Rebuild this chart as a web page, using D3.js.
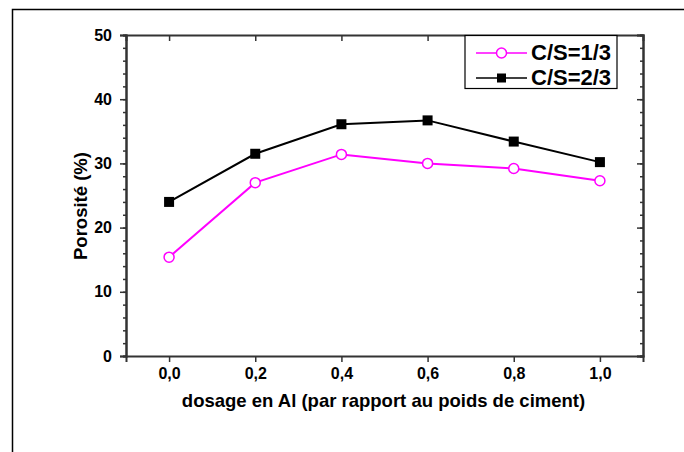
<!DOCTYPE html>
<html>
<head>
<meta charset="utf-8">
<script src="https://cdn.jsdelivr.net/npm/d3@7"></script>
<style>
  html, body { margin: 0; padding: 0; background: #fff; }
  svg { display: block; font-family: Arial, "Liberation Sans", Helvetica, sans-serif; }
</style>
</head>
<body>
<svg id="chart" width="684" height="452"></svg>
<script>
// Aluminium dosage (fraction of cement weight)
const dosage = [0.0, 0.2, 0.4, 0.6, 0.8, 1.0];
// Porosity (%) for each C/S ratio
const porositeCS13 = [15.4, 27.0, 31.4, 30.0, 29.2, 27.3];
const porositeCS23 = [24.0, 31.5, 36.1, 36.7, 33.4, 30.2];
const seriesNames = ["C/S=1/3", "C/S=2/3"];
const xTicks = [0.0, 0.2, 0.4, 0.6, 0.8, 1.0];
const yTicks = [0, 10, 20, 30, 40, 50];
const yMinorTicks = d3.range(0, 50.001, 2);

const svg = d3.select("#chart");
const margin = { left: 126, right: 41, top: 35, bottom: 96 };
const W = 684, H = 452;
const x = d3.scaleLinear().domain([-0.1, 1.1]).range([margin.left, W - margin.right]);
const y = d3.scaleLinear().domain([0, 50]).range([H - margin.bottom, margin.top]);
const axisColor = "#333";
const fmt = d => d3.format(".1f")(d).replace(".", ",");

// Page frame (top and left edges)
svg.append("path")
  .attr("d", `M12.5,452 L12.5,9.5 L684,9.5`)
  .attr("fill", "none").attr("stroke", "#000").attr("stroke-width", 1.5);

// Axes
function styleAxis(g) {
  g.selectAll("path.domain").attr("stroke", axisColor).attr("stroke-width", 2);
  g.selectAll(".tick line").attr("stroke", axisColor).attr("stroke-width", 1.5);
}

// Minor y ticks (left, outward; right, inward)
svg.append("g").attr("transform", `translate(${x.range()[0]},0)`)
  .call(d3.axisLeft(y).tickValues(yMinorTicks).tickSize(3).tickFormat(""))
  .call(styleAxis);
svg.append("g").attr("transform", `translate(${x.range()[1]},0)`)
  .call(d3.axisRight(y).tickValues(yMinorTicks).tickSize(-3).tickFormat(""))
  .call(styleAxis);

// Major y ticks
const yLeft = svg.append("g").attr("transform", `translate(${x.range()[0]},0)`)
  .call(d3.axisLeft(y).tickValues(yTicks).tickSize(6).tickPadding(8).tickFormat(d3.format("d")))
  .call(styleAxis);
yLeft.selectAll("text").attr("font-size", 16).attr("font-weight", "bold").attr("fill", "#000")
  .attr("font-family", "Arial, 'Liberation Sans', sans-serif");
svg.append("g").attr("transform", `translate(${x.range()[1]},0)`)
  .call(d3.axisRight(y).tickValues(yTicks).tickSize(-6).tickFormat(""))
  .call(styleAxis);

// x axes
const xBottom = svg.append("g").attr("transform", `translate(0,${y.range()[0]})`)
  .call(d3.axisBottom(x).tickValues(xTicks).tickSize(6).tickPadding(6).tickFormat(fmt))
  .call(styleAxis);
xBottom.selectAll("text").attr("font-size", 16).attr("font-weight", "bold").attr("fill", "#000")
  .attr("font-family", "Arial, 'Liberation Sans', sans-serif");
svg.append("g").attr("transform", `translate(0,${y.range()[1]})`)
  .call(d3.axisTop(x).tickValues(xTicks).tickSize(-6).tickFormat(""))
  .call(styleAxis);

// Axis titles
svg.append("text")
  .attr("x", (x.range()[0] + x.range()[1]) / 2 - 1).attr("y", 407)
  .attr("text-anchor", "middle").attr("font-size", 18.5).attr("font-weight", "bold")
  .text("dosage en Al (par rapport au poids de ciment)");
svg.append("text")
  .attr("transform", "translate(87,206) rotate(-90)")
  .attr("text-anchor", "middle").attr("font-size", 18.5).attr("font-weight", "bold")
  .text("Porosité (%)");

// Series
const line = d3.line().x((d, i) => x(dosage[i])).y(d => y(d));

svg.append("path").datum(porositeCS13).attr("d", line)
  .attr("fill", "none").attr("stroke", "#ff00ff").attr("stroke-width", 2);
svg.append("path").datum(porositeCS23).attr("d", line)
  .attr("fill", "none").attr("stroke", "#000").attr("stroke-width", 2);

svg.append("g").selectAll("circle").data(porositeCS13).join("circle")
  .attr("cx", (d, i) => x(dosage[i])).attr("cy", d => y(d)).attr("r", 5)
  .attr("fill", "#fff").attr("stroke", "#ff00ff").attr("stroke-width", 1.5);
const sq = 10;
svg.append("g").selectAll("rect").data(porositeCS23).join("rect")
  .attr("x", (d, i) => x(dosage[i]) - sq / 2).attr("y", d => y(d) - sq / 2)
  .attr("width", sq).attr("height", sq).attr("fill", "#000");

// Legend
const lg = svg.append("g");
lg.append("rect").attr("x", 465).attr("y", 35.5).attr("width", 152).attr("height", 53)
  .attr("fill", "#fff").attr("stroke", "#000").attr("stroke-width", 1.2);
const rows = [
  { name: seriesNames[0], color: "#ff00ff", marker: "circle", cy: 53 },
  { name: seriesNames[1], color: "#000", marker: "square", cy: 78 }
];
rows.forEach(r => {
  lg.append("line").attr("x1", 476).attr("x2", 527).attr("y1", r.cy).attr("y2", r.cy)
    .attr("stroke", r.color).attr("stroke-width", 1.5);
  if (r.marker === "circle") {
    lg.append("circle").attr("cx", 501.5).attr("cy", r.cy).attr("r", 5)
      .attr("fill", "#fff").attr("stroke", r.color).attr("stroke-width", 1.5);
  } else {
    lg.append("rect").attr("x", 497).attr("y", r.cy - 4.5).attr("width", 9).attr("height", 9)
      .attr("fill", r.color);
  }
  lg.append("text").attr("x", 531).attr("y", r.cy + 7).attr("font-size", 22)
    .attr("font-weight", "bold").attr("fill", "#000").text(r.name);
});
</script>
</body>
</html>
